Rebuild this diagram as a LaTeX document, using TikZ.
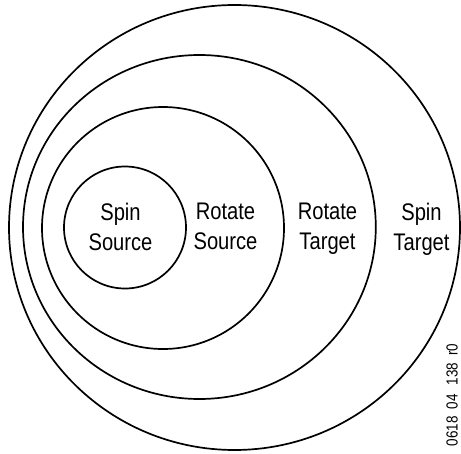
\documentclass[tikz,border=0pt]{standalone}
\usepackage{fontspec}
\setmainfont{Liberation Sans}[FakeStretch=0.84]
\usepackage{tikz}
\tikzstyle{ring} = [draw, line width=1.7pt]
\tikzstyle{ringtext} = [anchor=north, inner sep=0pt, align=center, font=\fontsize{24}{30}\selectfont]

\begin{document}
\begin{tikzpicture}[x=1pt,y=-1pt]
  \useasboundingbox (0,0) rectangle (461,453);

  % ring centres
  \coordinate (spinTgt) at (234.5,227.5);
  \coordinate (rotTgt) at (199.4,227);
  \coordinate (rotSrc) at (163,228);
  \coordinate (spinSrc) at (125,227.5);

  % nested rings
  \draw[ring] (spinTgt) ellipse [x radius=225.5, y radius=222.5];
  \draw[ring] (rotTgt) ellipse [x radius=176.4, y radius=172];
  \draw[ring] (rotSrc) circle [radius=121];
  \draw[ring] (spinSrc) circle [radius=61];

  % ring names
  \node[ringtext] (spinSrcText) at (120.5,203) {Spin\\Source};
  \node[ringtext] (rotSrcText) at (225.5,203) {Rotate\\Source};
  \node[ringtext] (rotTgtText) at (327.5,203) {Rotate\\Target};
  \node[ringtext] (spinTgtText) at (421.5,203) {Spin\\Target};

  % figure number
  \node[rotate=90, inner sep=0pt, font=\fontsize{16}{18}\selectfont] (figNo) at (452,395) {0618\hspace{7pt}04\hspace{9pt}138\hspace{7pt}r0};
\end{tikzpicture}
\end{document}
